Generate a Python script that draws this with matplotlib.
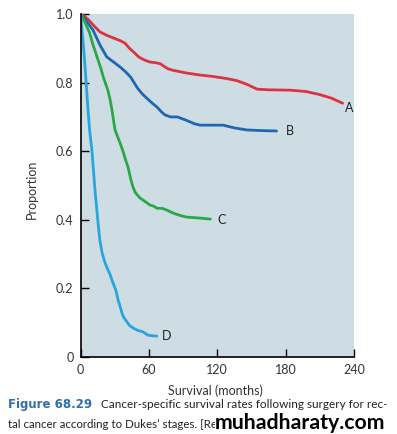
import matplotlib
matplotlib.use("Agg")
import matplotlib.pyplot as plt

# survival curves (months, proportion)
a_months = [0, 3, 7, 12, 17, 23, 29, 35, 39, 43, 47, 51, 56, 61, 66, 70, 74, 77, 81, 87, 93, 105, 116, 128, 137, 146, 155, 165, 184, 198, 210, 220, 230]
a_prop = [1.0, 0.995, 0.983, 0.965, 0.948, 0.938, 0.93, 0.922, 0.915, 0.90, 0.888, 0.875, 0.866, 0.86, 0.858, 0.855, 0.846, 0.84, 0.836, 0.832, 0.828, 0.822, 0.818, 0.812, 0.806, 0.795, 0.781, 0.779, 0.778, 0.774, 0.765, 0.755, 0.74]

b_months = [0, 5, 11, 17, 23, 29, 35, 40, 44, 50, 54, 58, 63, 67, 71, 74, 79, 85, 93, 100, 105, 115, 125, 135, 146, 160, 172]
b_prop = [1.0, 0.98, 0.953, 0.91, 0.875, 0.86, 0.845, 0.83, 0.816, 0.784, 0.768, 0.755, 0.74, 0.729, 0.715, 0.706, 0.70, 0.70, 0.69, 0.68, 0.676, 0.676, 0.676, 0.668, 0.662, 0.66, 0.659]

c_months = [0, 4, 8, 11, 14.5, 18, 20, 24, 26, 27.6, 30.3, 34, 37, 40, 41.7, 44, 46, 48, 52, 56, 61, 64, 67, 72, 76, 81, 87, 93, 105, 114]
c_prop = [1.0, 0.975, 0.945, 0.91, 0.875, 0.84, 0.816, 0.778, 0.75, 0.72, 0.662, 0.63, 0.603, 0.57, 0.554, 0.52, 0.496, 0.48, 0.464, 0.455, 0.443, 0.44, 0.434, 0.433, 0.428, 0.42, 0.413, 0.408, 0.405, 0.402]

d_months = [0, 2, 4, 6.6, 8, 10, 12.7, 15.4, 17, 19, 21, 23, 26, 28.5, 31, 33, 35, 36.4, 38, 40.8, 43, 46, 50, 55, 59, 63, 67]
d_prop = [1.0, 0.93, 0.845, 0.72, 0.66, 0.603, 0.487, 0.39, 0.34, 0.303, 0.28, 0.262, 0.24, 0.216, 0.195, 0.166, 0.145, 0.128, 0.115, 0.102, 0.092, 0.085, 0.078, 0.073, 0.064, 0.062, 0.061]

curve_labels = ['A', 'B', 'C', 'D']
label_pos = [(232, 0.727), (180, 0.66), (120, 0.398), (71, 0.061)]
colors = ['#d9343f', '#1f67b0', '#2aa848', '#27a6de']

plt.rcParams['font.family'] = ['Lato', 'DejaVu Sans']

fig = plt.figure(figsize=(3.97, 4.34), dpi=100)
ax = fig.add_axes([0.2028, 0.1774, 0.6889, 0.7903])
ax.set_facecolor('#cedce3')

series = [(a_months, a_prop), (b_months, b_prop), (c_months, c_prop), (d_months, d_prop)]
for (m, p), lab, col, pos in zip(series, curve_labels, colors, label_pos):
    ax.plot(m, p, color=col, lw=2.0, solid_capstyle='round', solid_joinstyle='round')
    ax.text(pos[0], pos[1], lab, fontsize=9, color='#222222', va='center', ha='left')

ax.set_xlim(0, 240)
ax.set_ylim(0, 1.0)
ax.set_xticks([0, 60, 120, 180, 240])
ax.set_yticks([0, 0.2, 0.4, 0.6, 0.8, 1.0])
ax.set_yticklabels(['0', '0.2', '0.4', '0.6', '0.8', '1.0'])
ax.tick_params(direction='in', length=6, width=1, labelsize=9, labelcolor='#333333', pad=5)
for s in ['top', 'right']:
    ax.spines[s].set_visible(False)
for s in ['left', 'bottom']:
    ax.spines[s].set_linewidth(1.2)

ax.set_ylabel('Proportion', fontsize=9, color='#333333')
ax.yaxis.set_label_coords(-0.155, 0.49)
ax.set_xlabel('Survival (months)', fontsize=9, color='#333333')
ax.xaxis.set_label_coords(0.495, -0.079)

# caption under the chart
fig.text(0.02, 0.067, 'Figure 68.29', fontsize=8.5, weight='bold', color='#2f6fa8', va='center',
         family=['DejaVu Sans'])
fig.text(0.255, 0.067, 'Cancer-specific survival rates following surgery for rec-',
         fontsize=8.5, color='#222222', va='center')
fig.text(0.02, 0.023, 'tal cancer according to Dukes\u2019 stages. [Red',
         fontsize=8.3, color='#222222', va='center')
fig.text(0.542, 0.025, 'muhadharaty.com', fontsize=15.3, weight='bold', color='black', va='center',
         bbox=dict(facecolor='white', edgecolor='none', pad=0.5))

fig.savefig('out.png', dpi=100)
